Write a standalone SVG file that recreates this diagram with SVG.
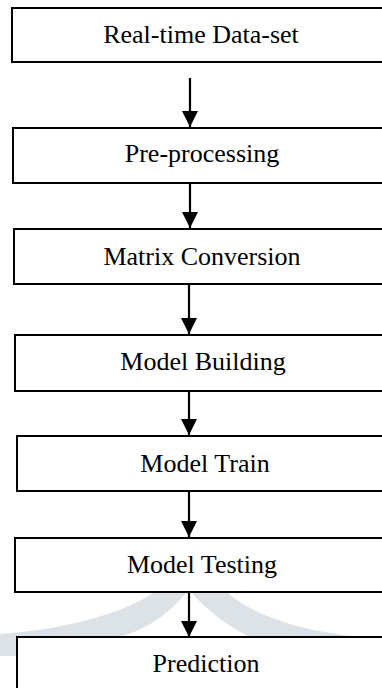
<svg xmlns="http://www.w3.org/2000/svg" width="382" height="688" viewBox="0 0 382 688">
<style>
.box{fill:#fff;stroke:#000;stroke-width:2}
.lbl{font-family:"Liberation Serif","Times New Roman",serif;font-size:26px;fill:#000;text-anchor:middle}
.conn{stroke:#000;stroke-width:2.2;fill:none;marker-end:url(#ah)}
.wm{fill:#dde2e6}
</style>
<defs>
<marker id="ah" markerUnits="userSpaceOnUse" markerWidth="16" markerHeight="16" refX="15" refY="7.5" orient="auto" viewBox="0 0 15 15">
<path d="M0,0 L15,7.5 L0,15 Z" fill="#000"/>
</marker>
</defs>
<rect width="382" height="688" fill="#fff"/>
<g id="watermark">
<path class="wm" d="M153,593 L186,593 C170,612 150,628 120,637 L17,637 L17,656 L0,656 L0,634 C60,630 120,615 153,593 Z"/>
<path class="wm" d="M192,593 L228,593 C250,612 290,630 360,637 L250,637 C225,625 205,608 192,593 Z"/>
</g>
<g id="connectors">
<line class="conn" x1="190" y1="78" x2="190" y2="127"/>
<line class="conn" x1="190" y1="183" x2="190" y2="228"/>
<line class="conn" x1="189" y1="284" x2="189" y2="334"/>
<line class="conn" x1="189" y1="386" x2="189" y2="435"/>
<line class="conn" x1="189" y1="491" x2="189" y2="537"/>
<line class="conn" x1="189" y1="592" x2="189" y2="637"/>
</g>
<g id="n1"><rect class="box" x="12" y="8" width="390" height="54"/><text class="lbl" x="201" y="43">Real-time Data-set</text></g>
<g id="n2"><rect class="box" x="13" y="128" width="390" height="55"/><text class="lbl" x="202" y="162">Pre-processing</text></g>
<g id="n3"><rect class="box" x="14" y="229" width="390" height="55"/><text class="lbl" x="202" y="265">Matrix Conversion</text></g>
<g id="n4"><rect class="box" x="15" y="335" width="390" height="56"/><text class="lbl" x="203" y="370">Model Building</text></g>
<g id="n5"><rect class="box" x="17" y="436" width="390" height="55"/><text class="lbl" x="205" y="472">Model Train</text></g>
<g id="n6"><rect class="box" x="15" y="538" width="390" height="54"/><text class="lbl" x="202" y="573">Model Testing</text></g>
<g id="n7"><rect class="box" x="17" y="637" width="390" height="80"/><text class="lbl" x="206" y="672">Prediction</text></g>
</svg>
